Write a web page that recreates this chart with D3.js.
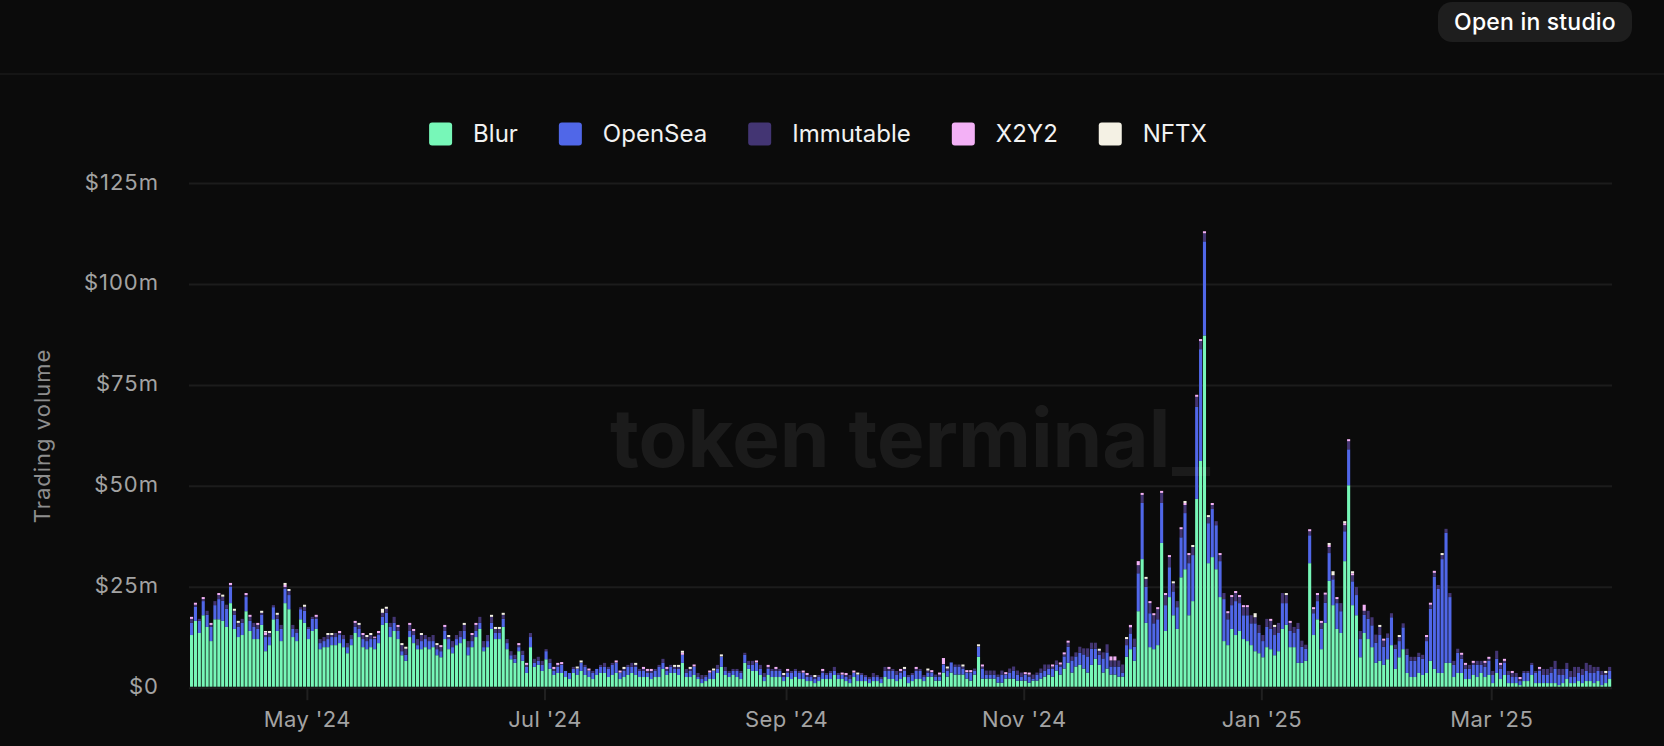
<!DOCTYPE html>
<html><head><meta charset="utf-8">
<script src="https://cdn.jsdelivr.net/npm/d3@7"></script>
<style>
html,body{margin:0;padding:0;background:#0b0b0b;overflow:hidden;}
svg{display:block;font-family:Inter,"Noto Sans",sans-serif;}
</style></head><body>
<svg id="chart" width="1664" height="746"></svg>
<script>
const startDate = "2024-04-01";
const seriesNames = ["Blur","OpenSea","Immutable","X2Y2","NFTX"];
const seriesColors = ["#77f7b8","#5067e8","#433573","#f3b1f6","#f4f1e4"];
const yTicks = [0,25,50,75,100,125];
const yTickLabels = ["$0","$25m","$50m","$75m","$100m","$125m"];
const xTickDates = ["2024-05-01","2024-07-01","2024-09-01","2024-11-01","2025-01-01","2025-03-01"];
const xTickLabels = ["May '24","Jul '24","Sep '24","Nov '24","Jan '25","Mar '25"];

const blur = [
12.8,16.3,13.3,17.7,14.8,11.3,16.7,16.7,16.3,14.8,
20.7,14.3,12.3,12.8,18.7,13.8,11.8,11.8,15.3,8.8,
10.3,16.7,13.8,11.3,20.7,19.2,12.3,11.3,16.7,15.8,
11.8,13.8,14.3,9.3,9.8,9.8,10.3,10.3,10.8,9.8,
8.3,10.3,13.3,12.3,9.8,9.3,9.8,9.3,10.8,15.3,
15.8,12.3,13.8,11.8,7.8,6.4,12.3,10.8,9.3,9.3,
9.8,9.3,9.8,7.8,7.3,11.8,9.3,8.3,10.3,10.8,
11.8,7.8,9.8,12.3,14.3,8.8,9.8,14.3,11.8,11.8,
14.8,9.3,6.8,5.9,8.8,6.4,3.4,9.8,4.9,5.4,
3.9,6.8,4.4,2.9,3.4,3.4,2.4,1.9,3.4,2.9,
3.9,2.9,2.4,1.9,2.9,3.4,3.4,2.4,2.9,3.4,
1.9,2.4,2.9,3.4,2.9,2.4,2.4,2.4,1.9,2.4,
2.4,4.4,2.9,3.4,3.4,2.9,5.9,2.4,2.4,2.9,
1.9,0.9,1.4,1.9,1.9,3.4,4.9,2.9,2.4,2.9,
2.4,1.9,5.9,4.4,3.9,3.9,2.9,1.4,2.9,2.4,
2.4,2.4,1.4,2.4,1.9,2.4,1.9,1.9,1.4,1.4,
0.9,1.4,1.9,1.9,1.9,2.9,1.9,1.9,1.4,0.9,
2.4,1.4,1.4,1.4,0.9,1.4,1.4,0.9,2.4,1.9,
1.9,1.4,1.9,2.4,0.9,1.4,1.9,1.9,1.4,2.5,
2.5,1.5,1.5,3.5,2.5,3.5,3.0,3.0,3.0,2.0,
1.5,3.0,7.4,2.0,2.0,2.0,2.0,1.0,1.0,2.0,
2.0,2.0,1.5,1.5,1.5,1.0,1.5,1.5,2.0,2.5,
3.0,2.5,4.0,3.0,4.5,5.9,3.5,5.0,5.4,4.5,
3.5,5.4,6.9,5.4,3.5,4.5,3.0,3.0,2.5,2.5,
7.4,9.3,6.4,18.7,31.6,15.8,9.8,9.3,10.3,35.6,
13.8,22.2,17.7,14.3,27.1,29.1,17.7,21.2,46.5,55.9,
87.0,30.6,32.1,29.1,22.2,11.3,10.3,14.3,12.8,13.8,
11.8,11.3,10.3,8.8,8.3,7.3,9.8,9.3,7.8,8.8,
14.3,15.3,9.8,9.8,5.9,5.9,6.4,30.6,12.8,16.7,
9.3,15.8,26.2,20.2,14.3,13.3,31.1,49.9,20.2,17.7,
7.3,13.3,11.8,9.8,5.9,6.4,5.4,6.8,10.3,4.4,
7.3,9.3,3.4,2.4,2.4,3.4,2.9,3.4,6.4,4.4,
3.4,3.4,5.9,5.9,2.4,3.4,3.4,1.9,1.9,2.9,
2.4,3.4,2.4,2.9,0.9,3.4,1.9,2.9,0.9,0.9,
0.9,0.4,1.4,1.4,2.9,0.9,0.9,0.9,0.9,0.9,
0.9,0.4,0.9,1.9,0.9,0.9,1.4,0.9,1.4,1.4,
0.9,1.4,0.4,0.9,1.9];

const opensea = [
3.0,3.5,3.0,3.5,3.0,3.5,3.5,5.0,5.0,4.5,
4.0,3.5,2.5,3.0,3.5,2.5,3.0,2.5,2.5,3.5,
2.0,3.0,3.0,3.0,3.5,3.5,2.0,2.0,2.5,3.0,
2.5,3.0,2.5,1.5,1.5,2.0,2.0,2.0,2.0,2.0,
1.5,1.5,1.5,2.0,2.0,2.0,2.0,2.5,2.0,2.0,
2.5,2.5,2.0,2.0,1.0,1.5,1.5,2.0,1.0,2.0,
2.0,2.0,1.5,1.5,1.5,2.0,2.5,1.5,1.5,1.5,
2.0,2.0,1.5,1.5,1.5,1.0,1.5,1.5,1.5,1.5,
2.0,1.5,1.0,1.0,1.0,1.5,1.5,2.5,1.0,1.0,
1.5,2.0,1.5,1.0,1.5,2.0,1.5,1.5,1.0,1.5,
2.0,2.0,1.5,1.5,1.5,1.5,1.5,2.0,2.5,2.5,
1.5,1.5,2.0,1.5,2.0,1.5,1.5,1.0,1.5,1.5,
2.5,1.5,1.0,1.5,1.0,1.5,2.0,1.0,1.5,2.0,
0.5,1.0,1.0,1.5,2.0,1.0,2.5,1.0,1.0,1.0,
1.5,1.5,2.0,1.0,1.5,2.0,1.5,1.0,1.5,1.5,
1.5,1.5,1.0,1.0,1.5,1.5,1.5,1.5,1.0,1.0,
1.0,1.0,1.5,1.0,1.5,1.0,1.0,1.0,1.0,1.0,
1.0,1.5,1.5,1.0,1.0,1.0,1.0,1.0,1.5,2.0,
2.0,1.5,1.5,1.5,1.5,1.5,2.0,2.0,1.0,1.0,
1.0,1.0,1.0,2.0,1.5,2.5,2.0,2.0,1.5,1.5,
2.0,1.0,2.5,2.5,1.0,1.0,1.0,1.5,2.0,1.0,
1.5,2.0,1.5,1.0,1.5,1.5,0.5,1.5,1.5,1.5,
1.5,2.0,1.5,2.0,3.0,4.0,3.0,2.5,3.0,3.5,
4.0,4.0,2.5,2.5,3.5,4.0,2.0,2.0,2.5,1.0,
2.9,3.9,3.5,9.4,13.9,8.9,8.4,6.4,6.4,9.9,
6.4,7.4,5.9,5.4,9.9,13.9,12.9,11.4,22.8,27.7,
23.3,9.9,11.9,10.9,8.9,10.4,6.4,5.9,8.4,6.9,
5.9,6.4,5.4,6.9,5.0,4.0,5.0,5.0,5.0,4.5,
6.4,5.4,4.0,3.5,8.4,4.0,3.0,6.9,5.4,4.5,
5.0,5.0,6.9,6.4,6.4,5.4,7.4,8.9,5.9,5.0,
4.5,4.5,5.0,5.4,5.0,6.4,4.5,5.4,6.9,5.0,
4.0,5.4,4.5,4.0,4.0,4.0,4.0,7.9,12.9,22.8,
20.8,28.2,32.2,16.3,3.0,5.0,3.5,2.5,2.5,2.5,
3.0,2.0,2.5,3.5,2.0,3.5,2.5,3.0,2.0,1.5,
1.5,1.0,2.0,2.0,2.5,2.5,3.0,2.0,2.0,2.5,
3.5,2.5,2.0,2.5,1.5,1.5,2.0,2.0,2.5,2.0,
2.5,2.5,2.5,2.0,2.0];

const immutable = [
1.0,0.5,0.5,0.5,1.0,0.5,1.0,1.0,1.0,1.0,
0.5,1.0,1.0,1.0,0.5,1.0,1.0,1.0,0.5,0.5,
1.0,0.5,1.0,1.0,0.5,1.0,1.0,1.0,0.5,1.0,
0.5,0.5,0.5,1.0,1.0,1.0,0.5,1.0,0.5,1.0,
1.0,1.0,1.0,1.0,1.0,1.0,1.0,0.3,0.5,1.0,
1.0,1.0,1.5,1.0,1.5,1.5,1.5,1.0,1.5,1.5,
1.0,1.0,1.5,1.0,1.0,1.0,0.5,1.5,1.0,1.5,
1.5,1.5,1.5,1.5,1.5,1.5,1.5,1.5,1.0,1.0,
1.0,1.0,1.0,1.0,0.5,1.0,0.5,1.0,1.0,1.0,
1.0,0.5,1.0,0.5,0.5,0.2,0,0,0.5,0.1,
0.1,0.5,0.1,0.5,0,0.5,1.0,0.5,0.5,0.1,
0.1,0.5,0.5,1.0,0.5,0.5,0.5,0.5,0.5,0.5,
0.5,1.0,0.5,0.5,0.5,0.5,0,1.0,0.5,0.1,
1.0,1.0,0.5,0.1,0.1,1.0,0.1,1.0,0.5,0.5,
0.5,0.5,0.5,1.0,1.0,0.1,1.0,1.0,0.5,0.5,
0.5,0.5,0.5,0.5,0.5,0.5,0.5,0.1,0.5,0.5,
0.5,0.5,0.5,0.5,0.5,1.0,0.5,0.1,0.5,1.0,
0.1,0.1,0.5,0.5,0.5,1.0,0.5,0.5,1.0,0.5,
0.5,1.0,0.5,0.5,0.5,0.5,0.5,0.5,0.5,0.5,
0.1,0.5,0.5,0.1,0.5,0,0.5,0.5,0.5,0.1,
0.1,0.5,0.1,0.5,1.0,1.0,1.0,0.5,1.0,0.1,
1.0,1.0,1.0,1.0,0.1,0.5,1.0,0.5,1.0,1.5,
1.0,0.5,1.0,0.5,0.5,1.0,1.0,1.0,1.5,1.5,
2.0,1.5,1.5,1.0,1.5,2.0,1.5,1.5,1.5,2.0,
1.5,1.5,2.0,2.0,2.0,2.0,2.5,2.0,2.5,2.5,
2.5,2.5,2.0,1.5,2.0,2.0,2.0,2.0,2.5,2.0,
2.0,1.5,1.0,1.0,1.5,1.5,1.5,2.0,2.0,1.5,
2.0,2.0,2.0,1.5,2.0,1.5,2.0,2.0,2.0,2.5,
2.5,2.0,2.0,1.5,1.5,1.5,1.0,1.0,1.0,1.5,
1.5,2.0,1.5,1.0,1.0,2.0,1.5,2.0,1.5,2.0,
2.0,1.0,2.0,2.0,2.0,2.0,1.5,1.0,1.0,1.0,
1.0,1.0,1.5,1.0,1.0,1.0,1.0,1.0,1.0,1.0,
1.0,1.0,1.0,1.0,1.0,1.0,1.0,1.0,1.0,0.5,
1.0,1.0,1.0,0.5,1.0,2.0,1.0,0.5,1.0,1.0,
1.0,0.5,0.5,0.5,0.5,0.5,0.5,1.5,1.5,1.5,
2.0,1.5,1.5,1.5,1.5,2.5,1.5,1.5,2.0,2.0,
1.5,1.0,1.0,0.5,1.0];

const x2y2 = [
0.5,0.5,0,0.5,0,0.5,0,0.5,0,0,
0.5,0,0,0,0.5,0.5,0,0.5,0,0.7,
0,0,0,0,0.5,0,0,0,0,0,
0,0,0.5,0,0,0,0,0,0.5,0,
0,0,0.5,0,0.5,0,0,0.3,0.5,0,
0,0,0,0.5,0,0,0.5,0.5,0,0,
0,0,0,0,0.5,0.5,0,0,0,0,
0,0,0.5,0.5,0,0,0,0,0,0,
0,0,0,0,0.5,0,0.5,0,0,0,
0,0,0,0.5,0.5,0.5,0,0,0,0,
0,0,0.5,0,0,0,0,0,0,0.5,
0.5,0,0,0,0,0,0.5,0.5,0.5,0,
0,0,0.5,0,0,0,0.5,0,0,0.5,
0,0,0,0.5,0,0,0,0,0,0,
0,0,0,0,0,0.5,0,0,0.5,0,
0.5,0,0,0.5,0,0,0,0.5,0.5,0,
0,0,0.5,0,0,0,0,0.5,0.5,0,
0.5,0,0,0,0,0,0,0,0,0.5,
0,0,0.5,0,0,0,0.5,0,0,0,
0.5,0,0.5,1.5,0,0,0,0,0,0.5,
0.5,0,0,0.5,0,0,0,0,0,0.5,
0,0,0,0,0.5,0.5,0,0,0,0,
0,0.5,0,0.5,0.5,0.5,0,0,0,0,
0,0,0,0,0,0,1.0,1.0,0,0,
0,0.6,0,1.0,0.5,0,0.5,0.5,0.5,0.5,
0.5,0.5,0,0,0.5,0.5,0.5,0,0.5,0.5,
0.5,0,0.5,0,0.5,0,0.5,0.5,0.5,0.5,
0.5,0.5,0,0,0,0,0,0.5,0,0,
0,0,0.5,0,0,0,0,0.5,0.5,0.5,
0.5,0.5,0.5,0,0.5,0,0.5,0.5,0.5,0,
0,1.5,0,0,0,0,0.5,0,0,0,
0,0,0,0,0,0,0,0.5,0.5,0.5,
0,0,0,0,0,0,0.5,0.5,0,0.5,
0,0,0.5,0.5,0,0,0.5,0.5,0,0.5,
0,0.5,0,0,0,0,0.5,0,0,0,
0,0,0,0,0,0,0,0,0,0,
0,0,0,0,0];

const nftx = [
0,0,0,0,0,0,0,0,0.5,0,
0,0.5,0.5,0,0,0,0,0,0.5,0.3,
0.5,0,0.5,0,0.5,0.5,0,0,0,0.5,
0,0,0,0,0,0.5,0.5,0,0,0,
0,0,0,0.5,0,0.5,0.5,0,0,1.0,
0.5,0,0,0,0.5,0.5,0,0,0,0.5,
0,0,0,0.5,0,0,0.5,0,0,0,
0.5,0,0,0,0,0,0,0.5,0.5,0.5,
0.5,0,0,0,0,0,0,0,0,0,
0,0,0,0,0,0,0,0,0,0.5,
0.5,0,0,0,0,0,0,0,0,0,
0,0.5,0,0,0.5,0,0,0,0,0,
0,0,0,0,0.5,0.5,0.5,0,0.5,0,
0,0,0,0,0.5,0,0.5,0,0,0,
0,0,0,0,0,0,0,0,0,0,
0,0,0.5,0,0,0,0,0,0,0,
0.5,0,0,0,0,0,0,0,0,0,
0,0.5,0,0,0,0,0,0,0,0,
0,0,0,0.5,0,0,0,0,0,0.5,
0,0,0,0,0.5,0,0,0,0.5,0,
0,0,0.5,0,0,0,0,0,0,0,
0,0,0,0,0,0,0,0,0,0,
0,0,0,0,0,0,0,0,0,0,
0,0,0,0.5,0,0,0,0,0,0,
0.5,0,0,0,0,0.5,0,0,0,0,
0,0,0.5,0,0,0.5,0,0.5,0,0,
0,0.5,0,0,0,0,0,0,0,0,
0,0,0,1.0,0,0,0,0,0.5,0,
0,0.5,0,0,0,0,0,0,0,0,
0,0,0.5,1.0,0,0,0.5,0,0.5,0,
0,0,0,0,0,0.5,0,0,0,0,
0.5,0,0,0,0,0,0,0,0,0,
0,0.5,0,0,0,0,0,0,0,0,
0,0,0,0,0,0,0,0,0,0,
0,0,0,0,0,0,0,0,0,0,
0,0,0,0,0,0,0,0,0,0,
0,0,0,0.5,0];

const seriesValues = [blur, opensea, immutable, x2y2, nftx];

// ---------- layout ----------
const W = 1664, H = 746;
const plotL = 190, plotR = 1612, plotT = 182, plotB = 686.7;
const svg = d3.select("#chart");

svg.append("rect").attr("width", W).attr("height", H).attr("fill", "#0b0b0b");

// header separator + button
svg.append("line").attr("x1", 0).attr("x2", W).attr("y1", 74).attr("y2", 74)
  .attr("stroke", "#1a1a1a").attr("stroke-width", 1.5);
svg.append("rect").attr("x", 1438).attr("y", 2).attr("width", 194).attr("height", 40)
  .attr("rx", 14).attr("fill", "#1e1e1e");
svg.append("text").attr("x", 1535).attr("y", 22).attr("dy", "0.35em")
  .attr("text-anchor", "middle").attr("fill", "#ffffff")
  .attr("font-size", 23).attr("font-weight", 500).attr("letter-spacing", 0.2)
  .text("Open in studio");

const parse = d3.utcParse("%Y-%m-%d");
const start = parse(startDate);
const n = blur.length;
const rows = d3.range(n).map(i => {
  const r = { date: d3.utcDay.offset(start, i) };
  seriesNames.forEach((k, j) => r[k] = seriesValues[j][i] || 0);
  return r;
});

const x = d3.scaleUtc().domain([start, d3.utcDay.offset(start, n)]).range([plotL, plotR]);
const y = d3.scaleLinear().domain([0, 125]).range([plotB, plotT]);
const color = d3.scaleOrdinal().domain(seriesNames).range(seriesColors);

// y grid + labels
const yAxis = d3.axisLeft(y).tickValues(yTicks)
  .tickFormat((d, i) => yTickLabels[i])
  .tickSize(-(plotR - plotL + 1)).tickPadding(30);
const gy = svg.append("g").attr("transform", `translate(${plotL - 1},0)`).call(yAxis);
gy.select(".domain").remove();
gy.selectAll(".tick line").attr("stroke", "#1c1c1c").attr("stroke-width", 2)
  .attr("transform", "translate(0,1)");
gy.selectAll(".tick text").attr("fill", "#a3a3a3").attr("font-size", 22)
  .attr("letter-spacing", 1).attr("font-family", "Inter, sans-serif");

// x axis
const xAxis = d3.axisBottom(x).tickValues(xTickDates.map(parse))
  .tickFormat((d, i) => xTickLabels[i]).tickSize(12).tickPadding(11);
const gx = svg.append("g").attr("transform", `translate(0,${plotB + 1.5})`).call(xAxis);
gx.select(".domain").remove();
gx.selectAll(".tick line").attr("stroke", "#202020").attr("stroke-width", 2);
gx.selectAll(".tick text").attr("fill", "#a3a3a3").attr("font-size", 22)
  .attr("letter-spacing", 0.4).attr("font-family", "Inter, sans-serif");

// y title
svg.append("text").attr("transform", "translate(42,436) rotate(-90)")
  .attr("text-anchor", "middle").attr("dy", "0.35em")
  .attr("fill", "#8e8e8e").attr("font-size", 22).attr("letter-spacing", 1)
  .text("Trading volume");

// bars
const stacked = d3.stack().keys(seriesNames)(rows);
const gb = svg.append("g");
gb.selectAll("g.series").data(stacked).join("g").attr("class", "series")
  .attr("fill", d => color(d.key))
  .selectAll("rect").data(d => d.filter(p => p[1] - p[0] > 0)).join("rect")
  .attr("x", p => x(p.data.date))
  .attr("width", p => x(d3.utcDay.offset(p.data.date, 1)) - x(p.data.date) - 0.8)
  .attr("y", p => y(p[1]))
  .attr("height", p => y(p[0]) - y(p[1]));

// watermark
svg.append("text").attr("x", 610).attr("y", 467)
  .attr("textLength", 600).attr("lengthAdjust", "spacingAndGlyphs")
  .attr("font-size", 80).attr("font-weight", 700)
  .attr("fill", "#ffffff").attr("fill-opacity", 0.065)
  .style("pointer-events", "none").text("token terminal_");

// legend
const lg = svg.append("g");
const items = lg.selectAll("g").data(seriesNames).join("g");
items.append("rect").attr("width", 23).attr("height", 23).attr("rx", 3)
  .attr("y", 134 - 11.5).attr("fill", d => color(d));
items.append("text").attr("x", 44).attr("y", 134).attr("dy", "0.35em")
  .attr("fill", "#f2f2f2").attr("font-size", 24).text(d => d);
let cx = 0;
const offs = [];
items.each(function () {
  offs.push(cx);
  const tw = d3.select(this).select("text").node().getComputedTextLength();
  cx += 44 + tw + 41;
});
const totalW = cx - 41;
const lx0 = 818 - totalW / 2;
items.attr("transform", (d, i) => `translate(${lx0 + offs[i]},0)`);
</script>
</body></html>
